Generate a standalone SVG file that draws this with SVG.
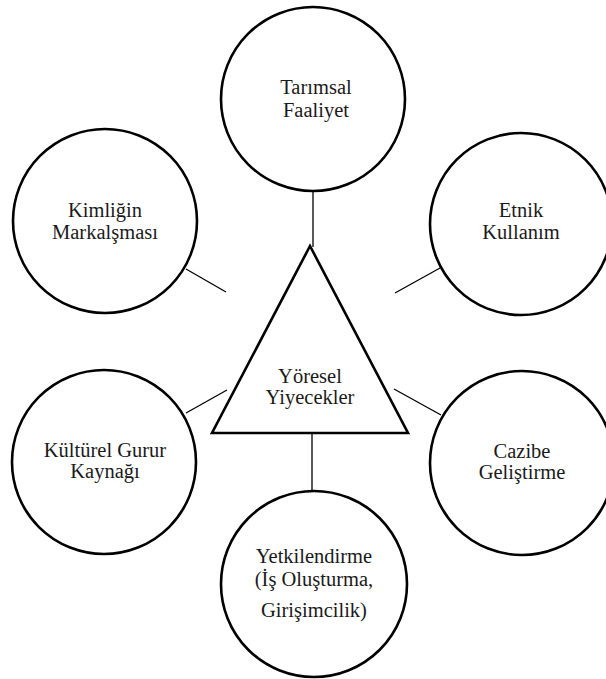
<svg xmlns="http://www.w3.org/2000/svg" width="606" height="679" viewBox="0 0 606 679">
<style>
.n{fill:#fff;stroke:#000;stroke-width:2.6}
.c{stroke:#000;stroke-width:1.3;fill:none}
.t{font-family:'Times New Roman','Liberation Serif',Tinos,'DejaVu Serif','Noto Serif',FreeSerif,serif;font-size:20.5px;fill:#1a1a1a;text-anchor:middle}
</style>
<rect width="606" height="679" fill="#fff"/>
<g id="connectors">
<line class="c" x1="313" y1="192" x2="313" y2="247"/>
<line class="c" x1="186" y1="269" x2="226" y2="292"/>
<line class="c" x1="440" y1="268" x2="395" y2="293"/>
<line class="c" x1="186" y1="413" x2="227" y2="390"/>
<line class="c" x1="394" y1="389" x2="441" y2="415"/>
<line class="c" x1="312" y1="434" x2="312" y2="491"/>
</g>
<g id="tarimsal">
<circle class="n" cx="313" cy="99" r="92"/>
<text class="t" x="316" y="94">Tarımsal</text>
<text class="t" x="316" y="117">Faaliyet</text>
</g>
<g id="kimligin">
<circle class="n" cx="105" cy="221" r="92"/>
<text class="t" x="105" y="217">Kimliğin</text>
<text class="t" x="105" y="239">Markalşması</text>
</g>
<g id="etnik">
<circle class="n" cx="521" cy="224" r="91"/>
<text class="t" x="521" y="217">Etnik</text>
<text class="t" x="521" y="239">Kullanım</text>
</g>
<g id="yoresel">
<polygon class="n" points="310,246 212,433 408,433" stroke-width="3"/>
<text class="t" x="310" y="383">Yöresel</text>
<text class="t" x="310" y="404">Yiyecekler</text>
</g>
<g id="kulturel">
<circle class="n" cx="104" cy="462" r="92"/>
<text class="t" x="105" y="457">Kültürel Gurur</text>
<text class="t" x="105" y="478">Kaynağı</text>
</g>
<g id="cazibe">
<circle class="n" cx="522" cy="463" r="92"/>
<text class="t" x="522" y="458">Cazibe</text>
<text class="t" x="522" y="479">Geliştirme</text>
</g>
<g id="yetkilendirme">
<circle class="n" cx="314" cy="584" r="93"/>
<text class="t" x="314" y="563">Yetkilendirme</text>
<text class="t" x="314" y="586">(İş Oluşturma,</text>
<text class="t" x="314" y="617">Girişimcilik)</text>
</g>
</svg>
